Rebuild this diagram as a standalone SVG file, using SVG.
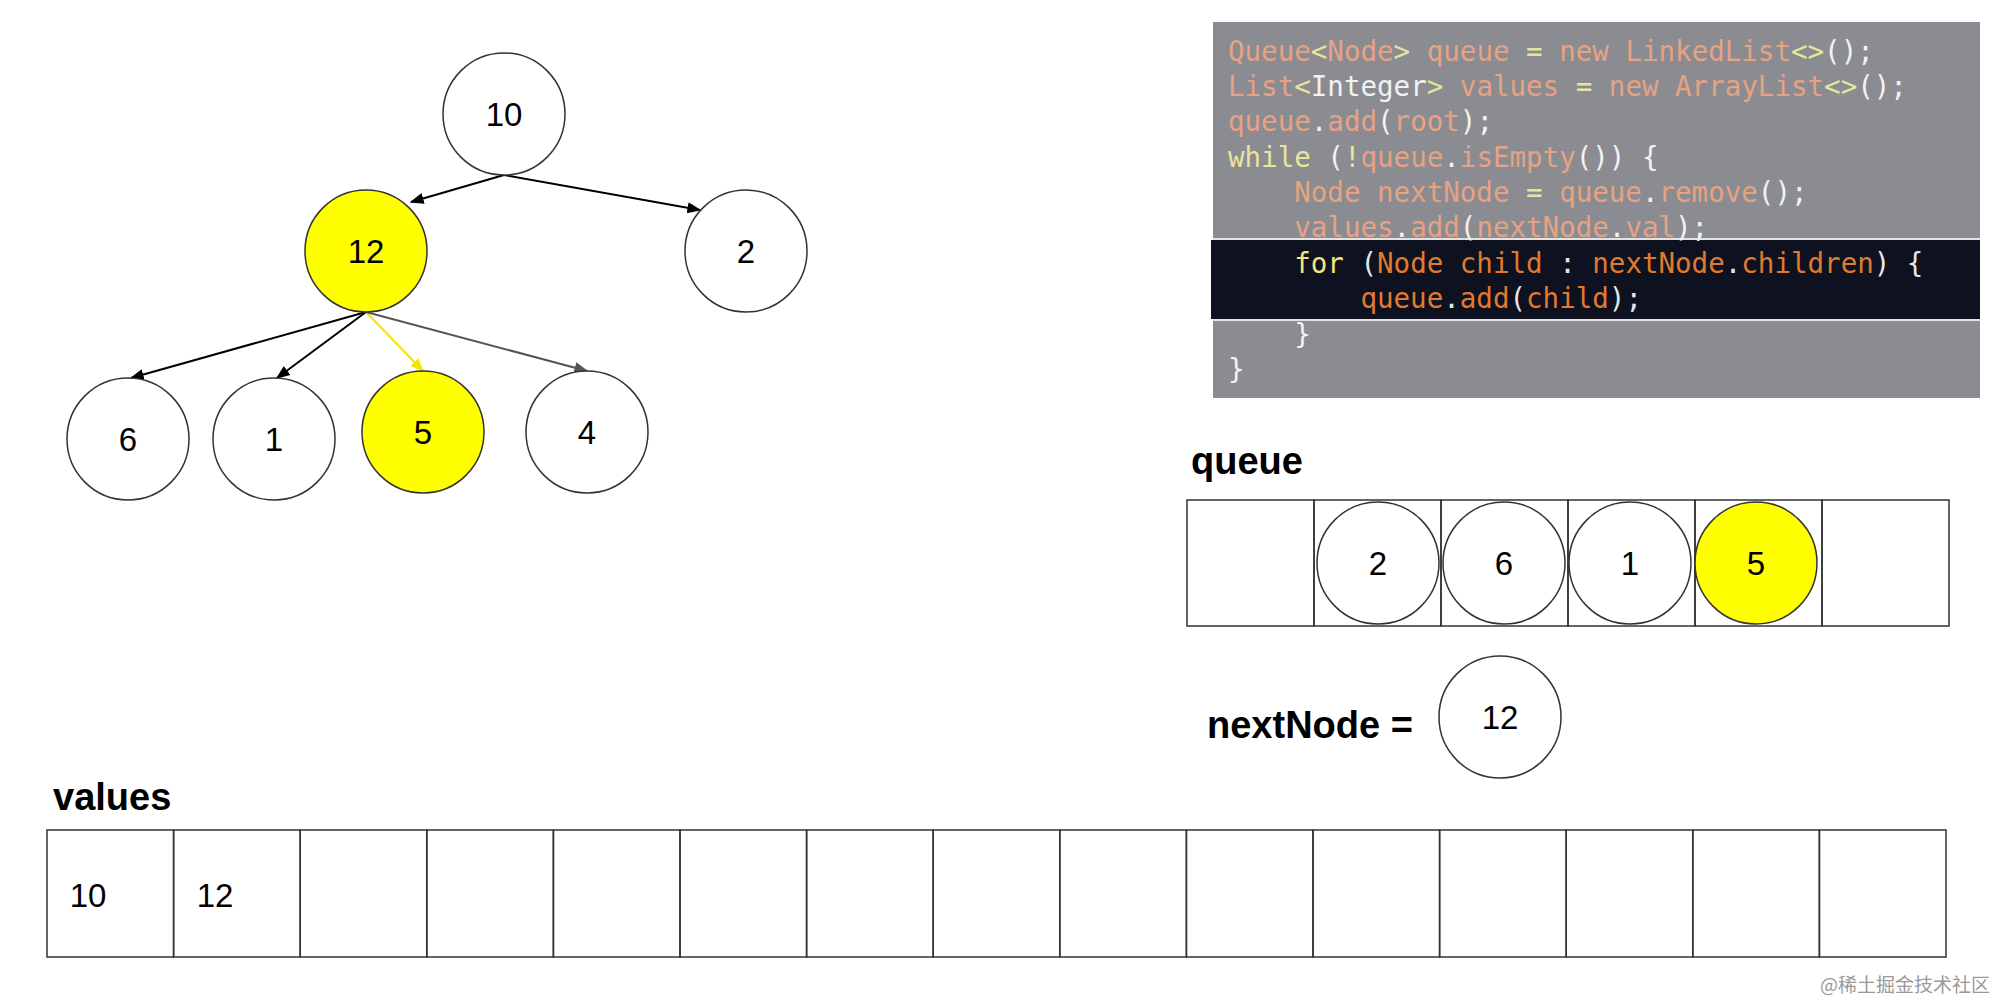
<svg xmlns="http://www.w3.org/2000/svg" width="2000" height="1000" viewBox="0 0 2000 1000">
<defs>
<marker id="ab" viewBox="0 0 10 10" refX="9" refY="5" markerWidth="7" markerHeight="7" orient="auto"><path d="M0,1 L10,5 L0,9 z" fill="#000"/></marker>
<marker id="ag" viewBox="0 0 10 10" refX="9" refY="5" markerWidth="7" markerHeight="7" orient="auto"><path d="M0,1 L10,5 L0,9 z" fill="#555"/></marker>
<marker id="ay" viewBox="0 0 10 10" refX="9" refY="5" markerWidth="7" markerHeight="7" orient="auto"><path d="M0,1 L10,5 L0,9 z" fill="#f2e600"/></marker>
</defs>
<style>
.n{fill:#fff;stroke:#333;stroke-width:1.5}
.y{fill:#ffff00;stroke:#333;stroke-width:1.5}
.t{font-family:"Liberation Sans",Arial,sans-serif;font-size:33px;fill:#000;text-anchor:middle;dominant-baseline:central}
.b{font-family:"Liberation Sans",Arial,sans-serif;font-size:38px;font-weight:bold;fill:#000}
.cell{fill:none;stroke:#333;stroke-width:1.5}
.code{font-family:"DejaVu Sans Mono",monospace;font-size:27.5px;white-space:pre}
.o{fill:#e6a283}.w{fill:#f2f2f2}.k{fill:#e8e49a}
.o2{fill:#e27a2e}.w2{fill:#e6e6e6}.k2{fill:#f3e47a}
</style>
<rect width="2000" height="1000" fill="#fff"/>
<g id="connectors" fill="none" stroke-width="2">
<line x1="504" y1="175" x2="411" y2="202" stroke="#000" marker-end="url(#ab)"/>
<line x1="504" y1="175" x2="700" y2="210" stroke="#000" marker-end="url(#ab)"/>
<line x1="366" y1="312" x2="131" y2="378" stroke="#000" marker-end="url(#ab)"/>
<line x1="366" y1="312" x2="277" y2="378" stroke="#000" marker-end="url(#ab)"/>
<line x1="366" y1="312" x2="423" y2="371" stroke="#f2e600" marker-end="url(#ay)"/>
<line x1="366" y1="312" x2="587" y2="371" stroke="#555" marker-end="url(#ag)"/>
</g>
<g id="n10"><circle class="n" cx="504" cy="114" r="61"/><text class="t" x="504" y="114">10</text></g>
<g id="n12"><circle class="y" cx="366" cy="251" r="61"/><text class="t" x="366" y="251">12</text></g>
<g id="n2"><circle class="n" cx="746" cy="251" r="61"/><text class="t" x="746" y="251">2</text></g>
<g id="n6"><circle class="n" cx="128" cy="439" r="61"/><text class="t" x="128" y="439">6</text></g>
<g id="n1"><circle class="n" cx="274" cy="439" r="61"/><text class="t" x="274" y="439">1</text></g>
<g id="n5"><circle class="y" cx="423" cy="432" r="61"/><text class="t" x="423" y="432">5</text></g>
<g id="n4"><circle class="n" cx="587" cy="432" r="61"/><text class="t" x="587" y="432">4</text></g>
<g id="code">
<rect x="1213" y="22" width="767" height="376" fill="#8b8c92"/>
<rect x="1211" y="240" width="769" height="79" fill="#0d1120"/>
<line x1="1211" y1="239" x2="1980" y2="239" stroke="#fff" stroke-width="1.5"/>
<line x1="1211" y1="320" x2="1980" y2="320" stroke="#fff" stroke-width="1.5"/>
<text class="code" x="1228" y="61"><tspan class="o">Queue</tspan><tspan class="k">&lt;</tspan><tspan class="o">Node</tspan><tspan class="k">&gt;</tspan><tspan class="o"> queue </tspan><tspan class="k">=</tspan><tspan class="o"> new LinkedList</tspan><tspan class="k">&lt;&gt;</tspan><tspan class="w">();</tspan></text>
<text class="code" x="1228" y="96"><tspan class="o">List</tspan><tspan class="k">&lt;</tspan><tspan class="w">Integer</tspan><tspan class="k">&gt;</tspan><tspan class="o"> values </tspan><tspan class="k">=</tspan><tspan class="o"> new ArrayList</tspan><tspan class="k">&lt;&gt;</tspan><tspan class="w">();</tspan></text>
<text class="code" x="1228" y="131"><tspan class="o">queue</tspan><tspan class="w">.</tspan><tspan class="o">add</tspan><tspan class="w">(</tspan><tspan class="o">root</tspan><tspan class="w">);</tspan></text>
<text class="code" x="1228" y="167"><tspan class="k">while</tspan><tspan class="w"> (</tspan><tspan class="k">!</tspan><tspan class="o">queue</tspan><tspan class="w">.</tspan><tspan class="o">isEmpty</tspan><tspan class="w">()) {</tspan></text>
<text class="code" x="1228" y="202"><tspan class="o">    Node nextNode </tspan><tspan class="k">=</tspan><tspan class="o"> queue</tspan><tspan class="w">.</tspan><tspan class="o">remove</tspan><tspan class="w">();</tspan></text>
<text class="code" x="1228" y="237"><tspan class="o">    values</tspan><tspan class="w">.</tspan><tspan class="o">add</tspan><tspan class="w">(</tspan><tspan class="o">nextNode</tspan><tspan class="w">.</tspan><tspan class="o">val</tspan><tspan class="w">);</tspan></text>
<text class="code" x="1228" y="273"><tspan class="k2">    for</tspan><tspan class="w2"> (</tspan><tspan class="o2">Node child </tspan><tspan class="w2">:</tspan><tspan class="o2"> nextNode</tspan><tspan class="w2">.</tspan><tspan class="o2">children</tspan><tspan class="w2">) {</tspan></text>
<text class="code" x="1228" y="308"><tspan class="o2">        queue</tspan><tspan class="w2">.</tspan><tspan class="o2">add</tspan><tspan class="w2">(</tspan><tspan class="o2">child</tspan><tspan class="w2">);</tspan></text>
<text class="code" x="1228" y="344"><tspan class="w">    }</tspan></text>
<text class="code" x="1228" y="379"><tspan class="w">}</tspan></text>
</g>
<g id="queue">
<text class="b" x="1191" y="474">queue</text>
<rect class="cell" x="1187" y="500" width="127" height="126"/>
<rect class="cell" x="1314" y="500" width="127" height="126"/>
<rect class="cell" x="1441" y="500" width="127" height="126"/>
<rect class="cell" x="1568" y="500" width="127" height="126"/>
<rect class="cell" x="1695" y="500" width="127" height="126"/>
<rect class="cell" x="1822" y="500" width="127" height="126"/>
<g id="q2"><circle class="n" cx="1378" cy="563" r="61"/><text class="t" x="1378" y="563">2</text></g>
<g id="q6"><circle class="n" cx="1504" cy="563" r="61"/><text class="t" x="1504" y="563">6</text></g>
<g id="q1"><circle class="n" cx="1630" cy="563" r="61"/><text class="t" x="1630" y="563">1</text></g>
<g id="q5"><circle class="y" cx="1756" cy="563" r="61"/><text class="t" x="1756" y="563">5</text></g>
</g>
<g id="nextNode">
<text class="b" x="1207" y="738">nextNode =</text>
<circle class="n" cx="1500" cy="717" r="61"/><text class="t" x="1500" y="717">12</text>
</g>
<g id="values">
<text class="b" x="53" y="810">values</text>
<g class="cell">
<rect x="47" y="830" width="126.6" height="127"/><rect x="173.6" y="830" width="126.6" height="127"/><rect x="300.2" y="830" width="126.6" height="127"/><rect x="426.8" y="830" width="126.6" height="127"/><rect x="553.4" y="830" width="126.6" height="127"/><rect x="680" y="830" width="126.6" height="127"/><rect x="806.6" y="830" width="126.6" height="127"/><rect x="933.2" y="830" width="126.6" height="127"/><rect x="1059.8" y="830" width="126.6" height="127"/><rect x="1186.4" y="830" width="126.6" height="127"/><rect x="1313" y="830" width="126.6" height="127"/><rect x="1439.6" y="830" width="126.6" height="127"/><rect x="1566.2" y="830" width="126.6" height="127"/><rect x="1692.8" y="830" width="126.6" height="127"/><rect x="1819.4" y="830" width="126.6" height="127"/>
</g>
<text class="t" x="88" y="895">10</text>
<text class="t" x="215" y="895">12</text>
</g>
<text x="1990" y="992" text-anchor="end" font-family="'Noto Sans CJK SC',sans-serif" font-size="19" fill="#999">@稀土掘金技术社区</text>
</svg>
